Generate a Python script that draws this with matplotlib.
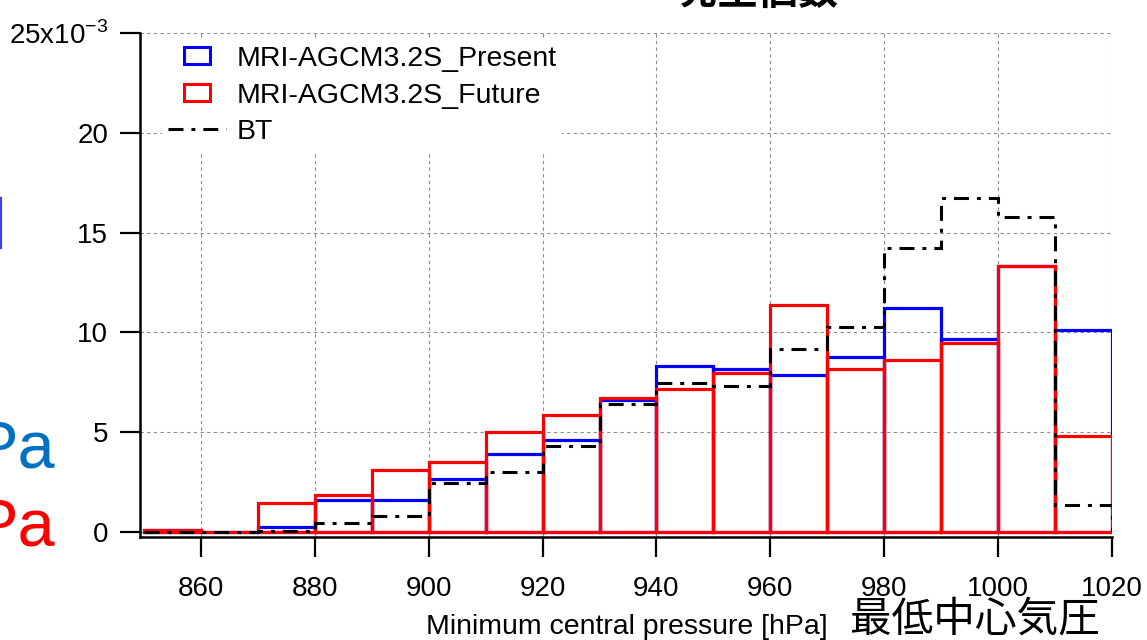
import numpy as np
import matplotlib
matplotlib.use("Agg")
import matplotlib.pyplot as plt
import matplotlib.patches as mpatches
from matplotlib.lines import Line2D
from matplotlib.legend_handler import HandlerPatch

plt.rcParams['font.family'] = ['Liberation Sans', 'Noto Sans CJK JP', 'DejaVu Sans']
plt.rcParams['mathtext.fontset'] = 'custom'
plt.rcParams['mathtext.rm'] = 'Liberation Sans'

# bin edges of minimum central pressure [hPa]
edges = np.arange(850, 1021, 10)
# relative frequency, in units of 10^-3
present = [0.1, 0.0, 0.26, 1.6, 1.6, 2.65, 3.9, 4.63, 6.6, 8.32, 8.15, 7.85, 8.77, 11.22, 9.68, 13.32, 10.1]
future = [0.1, 0.0, 1.43, 1.85, 3.13, 3.52, 5.02, 5.88, 6.73, 7.15, 7.98, 11.38, 8.18, 8.63, 9.48, 13.32, 4.82]
bt = [0.0, 0.0, 0.05, 0.43, 0.8, 2.47, 3.0, 4.3, 6.4, 7.47, 7.32, 9.15, 10.27, 14.25, 16.73, 15.77, 1.35]

series_labels = ['MRI-AGCM3.2S_Present', 'MRI-AGCM3.2S_Future', 'BT']
xticks = [860, 880, 900, 920, 940, 960, 980, 1000, 1020]
yticks = [0, 5, 10, 15, 20, 25]
ytick_labels = ['0', '5', '10', '15', '20', r'25x10$^{\mathregular{-3}}$']

W, H = 1147, 640
fig = plt.figure(figsize=(W / 100, H / 100), dpi=100)
ax = fig.add_axes([140 / W, (H - 536.5) / H, 972 / W, (536.5 - 33) / H])

bt_style = (0, (4.9, 2.6, 1.3, 2.6))
ax.bar(edges[:-1], present, width=10, align='edge', fill=False,
       edgecolor='#0000ff', linewidth=2.3, zorder=3)
ax.bar(edges[:-1], future, width=10, align='edge', fill=False,
       edgecolor='#ff0000', linewidth=2.3, zorder=4)
ax.stairs(bt, edges, baseline=0, color='black', linewidth=2.2,
          linestyle=bt_style, zorder=5)

ax.set_xlim(849.3, 1020)
ax.set_ylim(-0.225, 25)
ax.set_xticks(xticks)
ax.set_yticks(yticks)
ax.set_yticklabels(ytick_labels)

ax.grid(True, color='#8c8c8c', linestyle=(0, (3, 3)), linewidth=0.8, zorder=0)
for s in ['top', 'right']:
    ax.spines[s].set_visible(False)
for s in ['left', 'bottom']:
    ax.spines[s].set_linewidth(1.8)
ax.tick_params(axis='both', direction='out', length=14.5, width=1.6, labelsize=20)
ax.tick_params(axis='y', pad=8.5)
ax.tick_params(axis='x', pad=14)


def small_rect(legend, orig_handle, xdescent, ydescent, width, height, fontsize):
    w, h = 18.7, 12.2
    return mpatches.Rectangle((-xdescent + (width - w) / 2, -ydescent + (height - h) / 2), w, h)


h_present = mpatches.Rectangle((0, 0), 1, 1, fill=False, edgecolor='#0000ff', linewidth=2.2)
h_future = mpatches.Rectangle((0, 0), 1, 1, fill=False, edgecolor='#ff0000', linewidth=2.2)
h_bt = Line2D([], [], color='black', linewidth=2.2, linestyle=bt_style)
leg = ax.legend([h_present, h_future, h_bt], series_labels,
                loc='upper left', bbox_to_anchor=((162 - 140) / 972, (536.5 - 40) / 503.5),
                borderaxespad=0, borderpad=0.2, fontsize=20.5, handlelength=2.04,
                handletextpad=0.38, labelspacing=0.38, frameon=True, fancybox=False,
                handler_map={mpatches.Rectangle: HandlerPatch(patch_func=small_rect)})
leg.get_frame().set_facecolor('white')
leg.get_frame().set_edgecolor('none')
leg.get_frame().set_alpha(1)
leg.set_zorder(10)

fig.text(627 / W, (H - 634) / H, 'Minimum central pressure [hPa]', ha='center', va='baseline', fontsize=20.5)
fig.text(975 / W, (H - 621) / H, '最低中心気圧', ha='center', va='center', fontsize=30)
fig.text(758 / W, 1 - 4 / H, '発生個数', ha='center', va='baseline', fontsize=29, fontweight='bold')

fig.text(55 / W, (H - 467) / H, 'Pa', ha='right', va='baseline', fontsize=48, color='#0070c0')
fig.text(55 / W, (H - 545) / H, 'Pa', ha='right', va='baseline', fontsize=48, color='#ff0000')
fig.add_artist(Line2D([1 / W, 1 / W], [(H - 198) / H, (H - 248) / H], color='#4040e0', linewidth=1.6))

fig.savefig('out.png', dpi=100)
